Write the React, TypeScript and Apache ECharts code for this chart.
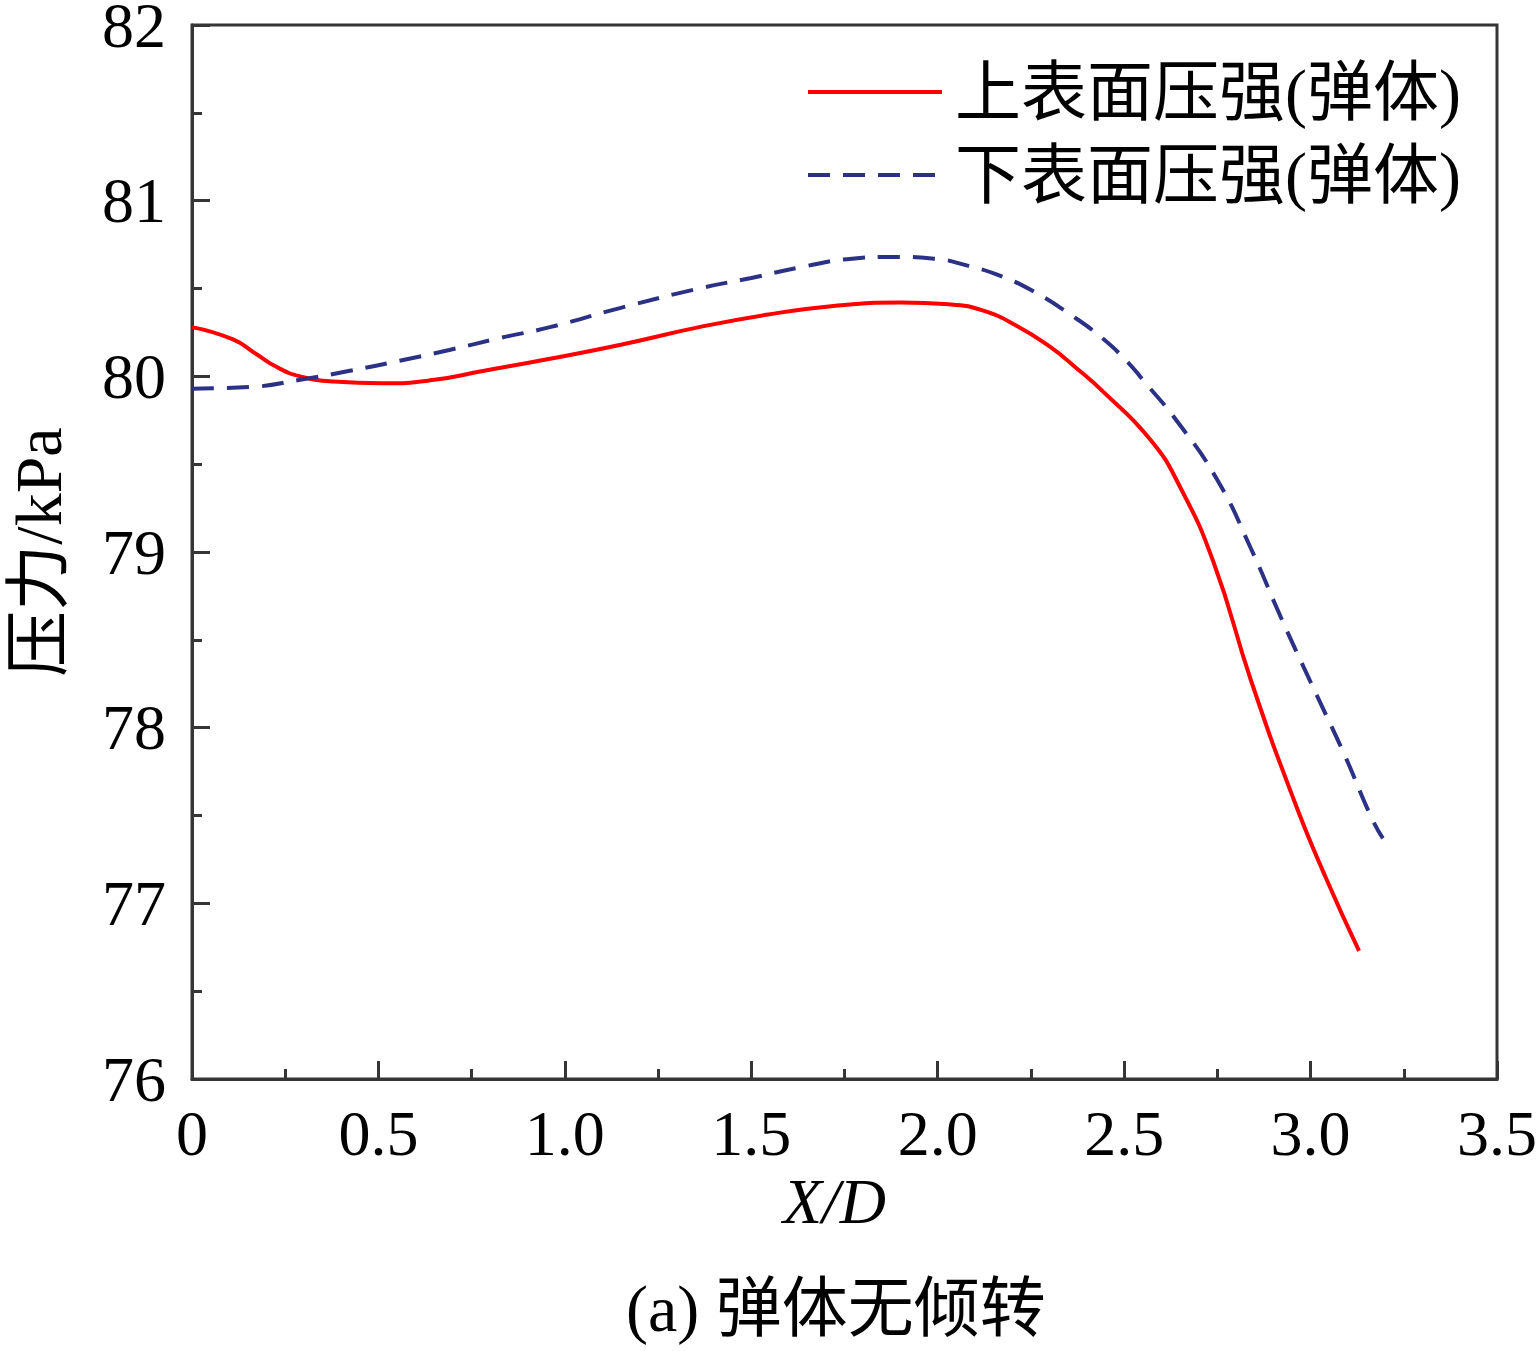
import React, { useEffect, useRef } from 'react';
import * as echarts from 'echarts';

// ---- data ----
const upperX = [0, 0.11, 0.17, 0.23, 0.29, 0.38, 0.51, 0.65, 0.78, 0.96, 1.15, 1.36, 1.54, 1.72, 1.9, 2.03, 2.12, 2.21, 2.3, 2.37, 2.44, 2.57, 2.65, 2.74, 2.84, 2.955, 3.04, 3.13];
const upperP = [80.28, 80.21, 80.13, 80.05, 80.0, 79.97, 79.96, 79.98, 80.03, 80.1, 80.18, 80.28, 80.35, 80.4, 80.42, 80.41, 80.375, 80.29, 80.17, 80.05, 79.92, 79.64, 79.37, 78.94, 78.27, 77.59, 77.15, 76.73];

const lowerX = [0, 0.16, 0.29, 0.42, 0.56, 0.69, 0.83, 0.96, 1.15, 1.36, 1.5, 1.63, 1.77, 1.88, 1.99, 2.08, 2.17, 2.26, 2.35, 2.44, 2.51, 2.55, 2.64, 2.75, 2.84, 2.92, 3.0, 3.09, 3.165, 3.194];
const lowerP = [79.93, 79.94, 79.98, 80.03, 80.09, 80.15, 80.22, 80.28, 80.39, 80.5, 80.56, 80.62, 80.67, 80.68, 80.67, 80.63, 80.57, 80.48, 80.36, 80.22, 80.08, 79.98, 79.75, 79.41, 79.02, 78.63, 78.26, 77.85, 77.48, 77.37];

const seriesNames = ['上表面压强(弹体)', '下表面压强(弹体)'];
const caption = '(a) 弹体无倾转';

const FONT = '"Liberation Serif", "Times New Roman", "Noto Sans CJK SC", serif';
const AXIS_COLOR = '#353535';
const RED = '#ff0000';
const NAVY = '#2b3185';

const App: React.FC = () => {
  const chartRef = useRef<HTMLDivElement>(null);

  useEffect(() => {
    document.body.style.margin = '0';
    if (!chartRef.current) return;
    const chart = echarts.init(chartRef.current, undefined, { renderer: 'svg' });

    const tickStyle = { color: AXIS_COLOR, width: 3 };

    const option: any = {
      animation: false,
      backgroundColor: '#fff',
      grid: {
        left: 192,
        right: 40,
        top: 25,
        bottom: 272,
        containLabel: false,
        outerBoundsMode: 'none',
        show: true,
        borderColor: AXIS_COLOR,
        borderWidth: 3,
      },
      title: {
        text: caption,
        left: 621,
        top: 1270,
        textStyle: { fontSize: 66, fontWeight: 'normal', color: '#000', fontFamily: FONT },
      },
      legend: {
        orient: 'vertical',
        left: 806,
        top: 59,
        padding: 0,
        itemWidth: 134,
        itemHeight: 20,
        itemGap: 17,
        itemStyle: { opacity: 0 },
        textStyle: {
          fontSize: 66,
          lineHeight: 66,
          color: '#000',
          fontFamily: FONT,
          padding: [0, 0, 0, 8],
        },
        data: [
          { name: seriesNames[0], itemStyle: { opacity: 0 }, lineStyle: { color: RED, width: 4, type: 'solid' } },
          { name: seriesNames[1], itemStyle: { opacity: 0 }, lineStyle: { color: NAVY, width: 4, type: [22, 13] } },
        ],
      },
      xAxis: {
        type: 'value',
        min: 0,
        max: 3.5,
        interval: 0.5,
        name: 'X/D',
        nameLocation: 'middle',
        nameGap: 34,
        nameTextStyle: {
          fontSize: 64,
          fontStyle: 'italic',
          color: '#000',
          fontFamily: FONT,
          padding: [0, 20, 0, 0],
        },
        axisLine: { show: true, lineStyle: tickStyle },
        axisTick: { show: true, inside: true, length: 18, lineStyle: tickStyle },
        minorTick: { show: true, splitNumber: 2, length: 10, lineStyle: tickStyle },
        splitLine: { show: false },
        axisLabel: {
          fontSize: 64,
          color: '#000',
          fontFamily: FONT,
          margin: 22,
          formatter: (v: number) => (v === 0 ? '0' : v.toFixed(1)),
        },
      },
      yAxis: {
        type: 'value',
        min: 76,
        max: 82,
        interval: 1,
        name: '压力/kPa',
        nameLocation: 'middle',
        nameGap: 124,
        nameRotate: 90,
        nameTextStyle: { fontSize: 66, lineHeight: 60, color: '#000', fontFamily: FONT },
        axisLine: { show: true, lineStyle: tickStyle },
        axisTick: { show: true, inside: true, length: 18, lineStyle: tickStyle },
        minorTick: { show: true, splitNumber: 2, length: 10, lineStyle: tickStyle },
        splitLine: { show: false },
        axisLabel: { fontSize: 64, lineHeight: 48, color: '#000', fontFamily: FONT, margin: 26 },
      },
      series: [
        {
          name: seriesNames[0],
          type: 'line',
          smooth: true,
          symbol: 'none',
          data: upperX.map((x, i) => [x, upperP[i]]),
          lineStyle: { color: RED, width: 4 },
          itemStyle: { color: RED },
        },
        {
          name: seriesNames[1],
          type: 'line',
          smooth: true,
          symbol: 'none',
          data: lowerX.map((x, i) => [x, lowerP[i]]),
          lineStyle: { color: NAVY, width: 4, type: [22, 13] },
          itemStyle: { color: NAVY },
        },
      ],
    };

    chart.setOption(option);
    return () => {
      chart.dispose();
    };
  }, []);

  return <div ref={chartRef} style={{ width: 1537, height: 1351 }} />;
};

export default App;
